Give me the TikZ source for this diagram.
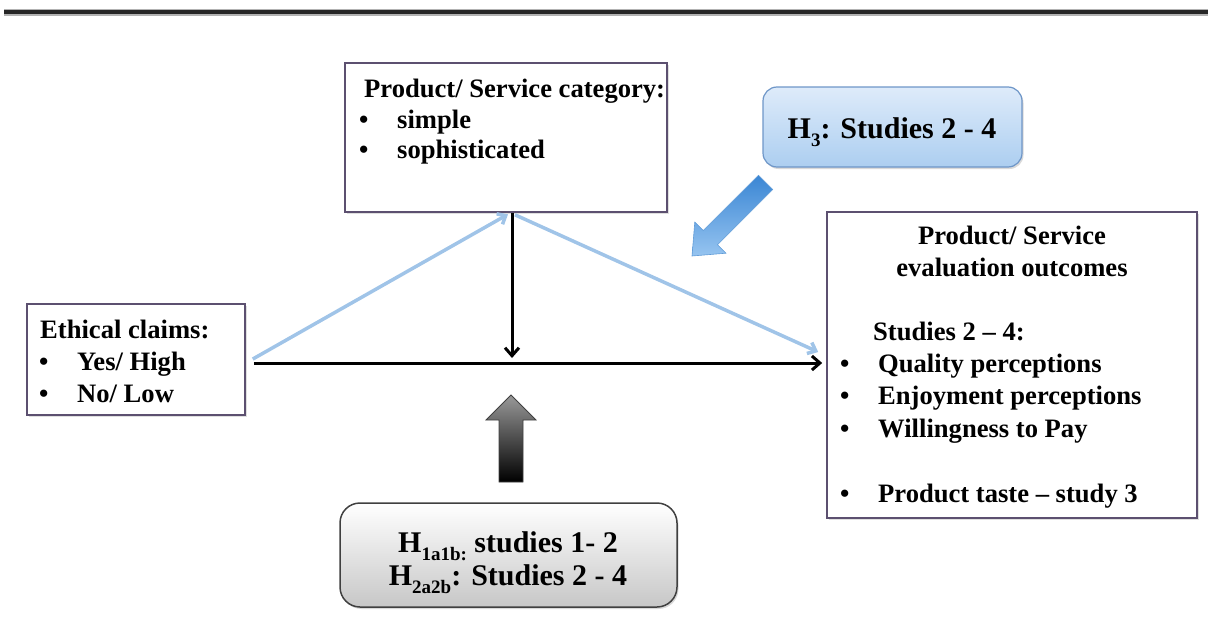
\documentclass[tikz,border=0pt]{standalone}
\usepackage{fontspec}
\setmainfont{Liberation Serif}
\usetikzlibrary{arrows.meta,shadows,calc}
\newcommand\bul{\makebox[38pt][l]{•}}
\newcommand\hsub[1]{\raisebox{-0.28em}{\fontsize{19}{19}\selectfont #1}}
\definecolor{boxline}{RGB}{92,80,112}
\definecolor{lineblue}{RGB}{160,196,232}
\definecolor{hthreetop}{RGB}{222,235,250}
\definecolor{hthreebot}{RGB}{172,206,240}
\definecolor{hthreeline}{RGB}{110,150,200}
\definecolor{barrowdark}{RGB}{58,134,212}
\definecolor{barrowlight}{RGB}{150,196,240}
\definecolor{barrowline}{RGB}{95,155,215}
\tikzset{
  plainbox/.style={draw=boxline, line width=1.6pt, fill=white, inner sep=0pt,
    drop shadow={shadow xshift=1.5pt, shadow yshift=-1.5pt, opacity=0.25}},
  hthree/.style={draw=hthreeline, line width=1.2pt, inner sep=0pt,
    top color=hthreetop, bottom color=hthreebot,
    rounded corners=14pt,
    drop shadow={shadow xshift=1.5pt, shadow yshift=-2pt, opacity=0.3}},
  hone/.style={draw=black!75, line width=1.5pt, inner sep=0pt,
    top color=white, bottom color=black!22, rounded corners=20pt,
    drop shadow={shadow xshift=1.5pt, shadow yshift=-2pt, opacity=0.3}},
  txt/.style={anchor=base west, inner sep=0pt, font=\fontsize{26.6}{31}\selectfont\bfseries},
  ctxt/.style={anchor=base, inner sep=0pt, font=\fontsize{26.6}{31}\selectfont\bfseries},
  bigtxt/.style={anchor=base, inner sep=0pt, font=\fontsize{30}{34}\selectfont\bfseries},
  blk/.style={line width=3pt, black, -{Straight Barb[length=8pt,width=14pt]}},
  blu/.style={line width=3.5pt, lineblue, -{Straight Barb[length=7pt,width=12pt]}}
}
\begin{document}
\begin{tikzpicture}[x=1pt,y=-1pt]
\useasboundingbox (0,0) rectangle (1208,621);
% top rule
\coordinate (rl) at (4,12);
\coordinate (rr) at (1208,12);
\draw[line width=7pt, black!30] (rl) -- (rr);
\draw[line width=4pt, black!85] (rl) -- (rr);

% boxes
\node[plainbox, minimum width=322pt, minimum height=149pt] (topbox) at (506,137.5) {};
\node[plainbox, minimum width=218pt, minimum height=111pt] (ethbox) at (136,359.5) {};
\node[plainbox, minimum width=370pt, minimum height=306pt] (outbox) at (1012,365) {};
\node[hthree, minimum width=259pt, minimum height=80pt] (h3box) at (892.5,127) {};
\node[hone, minimum width=337pt, minimum height=104pt] (hbox) at (508.5,555) {};

% texts
\node[txt] (tA) at (364,97) {Product/ Service category:};
\node[txt] (tB) at (359,128) {\bul simple};
\node[txt] (tC) at (359,158.5) {\bul sophisticated};

\node[txt] (eA) at (40,338) {Ethical claims:};
\node[txt] (eB) at (39,370) {\bul Yes/ High};
\node[txt] (eC) at (39,402) {\bul No/ Low};

\node[ctxt] (oA) at (1012,244) {Product/ Service};
\node[ctxt] (oB) at (1012,276) {evaluation outcomes};
\node[txt] (oC) at (873,340) {Studies 2 – 4:};
\node[txt] (oD) at (840,372) {\bul Quality perceptions};
\node[txt] (oE) at (840,404) {\bul Enjoyment perceptions};
\node[txt] (oF) at (840,437) {\bul Willingness to Pay};
\node[txt] (oG) at (840,502) {\bul Product taste – study 3};

\node[bigtxt] (hA) at (892,138) {H\hsub{3}: Studies 2 - 4};
\node[bigtxt] (hB) at (508,552) {H\hsub{1a1b:} studies 1- 2};
\node[bigtxt] (hC) at (508,585) {H\hsub{2a2b}: Studies 2 - 4};

% block arrows
\shade[top color=black!40, bottom color=black, draw=black!75, line width=0.8pt]
  (511,395) -- (536,420) -- (523,420) -- (523,482) -- (499,482) -- (499,420) -- (486,420) -- cycle;
\shade[top color=barrowdark, bottom color=barrowlight, draw=barrowline, line width=0.6pt]
  (758.5,175.3) -- (703.3,230.5) -- (694.8,222.0) -- (692,256) -- (726,253.2) -- (717.5,244.7) -- (772.7,189.5) -- cycle;

% connectors
\coordinate (mod) at ($(topbox.south)+(6,0)$);
\coordinate (joint) at (mod |- 0,363);
\coordinate (ethout) at (ethbox.east |- joint);
\coordinate (apexA) at ($(topbox.south)+(2,1.5)$);
\coordinate (apexB) at ($(topbox.south)+(9,2)$);
\coordinate (blueend) at ($(outbox.west)+(-8,-13)$);
\draw[blu, shorten <=8pt] (ethout) -- (apexA);
\draw[blu] (apexB) -- (blueend);
\draw[blk, shorten <=8pt, shorten >=4pt] (ethout) -- (ethout -| outbox.west);
\draw[blk, shorten >=5pt] (mod) -- (joint);
\end{tikzpicture}
\end{document}
